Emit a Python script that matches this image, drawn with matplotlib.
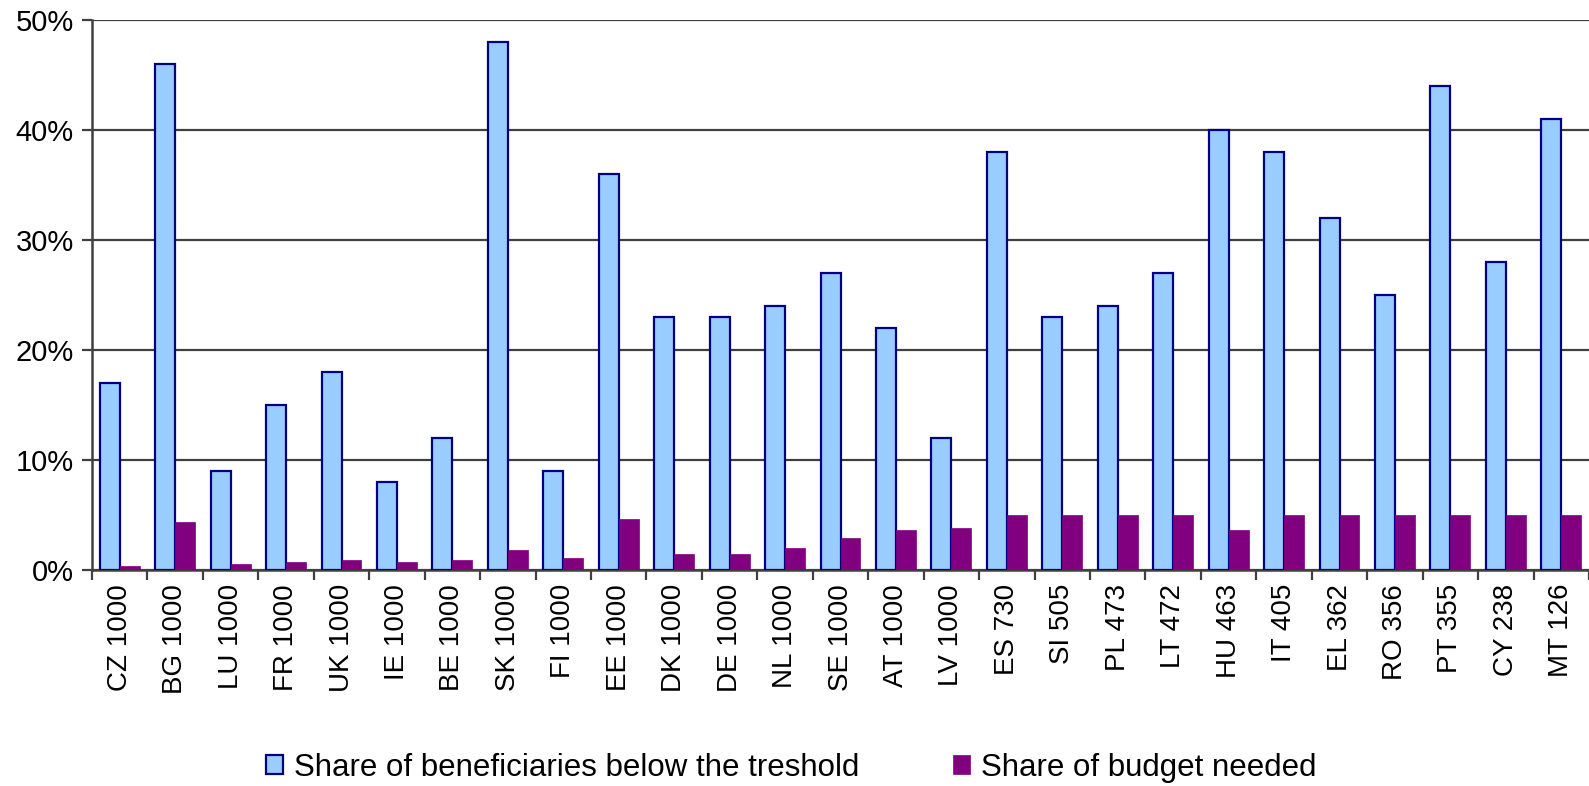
import numpy as np
import matplotlib.pyplot as plt
from matplotlib.ticker import FuncFormatter, FixedLocator

# Countries with threshold (EUR)
labels = ['CZ 1000', 'BG 1000', 'LU 1000', 'FR 1000', 'UK 1000', 'IE 1000', 'BE 1000',
          'SK 1000', 'FI 1000', 'EE 1000', 'DK 1000', 'DE 1000', 'NL 1000', 'SE 1000',
          'AT 1000', 'LV 1000', 'ES 730', 'SI 505', 'PL 473', 'LT 472', 'HU 463',
          'IT 405', 'EL 362', 'RO 356', 'PT 355', 'CY 238', 'MT 126']

# Share of beneficiaries below the threshold (%)
beneficiaries = [17, 46, 9, 15, 18, 8, 12, 48, 9, 36, 23, 23, 24, 27, 22, 12,
                 38, 23, 24, 27, 40, 38, 32, 25, 44, 28, 41]

# Share of budget needed (%)
budget = [0.4, 4.4, 0.55, 0.7, 0.9, 0.7, 0.9, 1.8, 1.1, 4.6, 1.45, 1.45, 2.0, 2.9,
          3.65, 3.8, 5, 5, 5, 5, 3.65, 5, 5, 5, 5, 5, 5]

plt.rcParams['font.family'] = ['Liberation Sans', 'DejaVu Sans']

fig = plt.figure(figsize=(15.89, 7.86), dpi=100)
ax = fig.add_axes([0.0579, 0.2748, 0.9421, 0.6998])

x = np.arange(len(labels))
w = 0.36
ax.bar(x - w / 2, beneficiaries, w, color='#99CCFF', edgecolor='#000080', linewidth=1.6,
       label='Share of beneficiaries below the treshold', zorder=3)
ax.bar(x + w / 2, budget, w, color='#800080', edgecolor='#800080', linewidth=0.5,
       label='Share of budget needed', zorder=3)

ax.set_xlim(-0.5, len(labels) - 0.5)
ax.set_ylim(0, 50)
ax.set_yticks([0, 10, 20, 30, 40, 50])
ax.yaxis.set_major_formatter(FuncFormatter(lambda v, p: '%d%%' % v))
ax.yaxis.grid(True, color='#404040', linewidth=1.6, zorder=0)

ax.set_xticks(x)
ax.set_xticklabels(labels, rotation=90)
ax.xaxis.set_minor_locator(FixedLocator(np.arange(-0.5, len(labels), 1)))
ax.tick_params(axis='x', which='major', length=0, pad=10, labelsize=20)
ax.tick_params(axis='x', which='minor', length=7, width=1.6, color='#404040')
ax.tick_params(axis='y', length=7, width=1.6, color='#404040', labelsize=21, pad=6)

for s in ['top', 'right']:
    ax.spines[s].set_visible(False)
for s in ['left', 'bottom']:
    ax.spines[s].set_color('#404040')
    ax.spines[s].set_linewidth(1.8)

fig.legend(loc='center', bbox_to_anchor=(0.498, 0.023), ncol=2, frameon=False,
           fontsize=22.5, handlelength=0.55, handleheight=0.55, handletextpad=0.35,
           columnspacing=3.0)

fig.savefig('out.png', dpi=100)
